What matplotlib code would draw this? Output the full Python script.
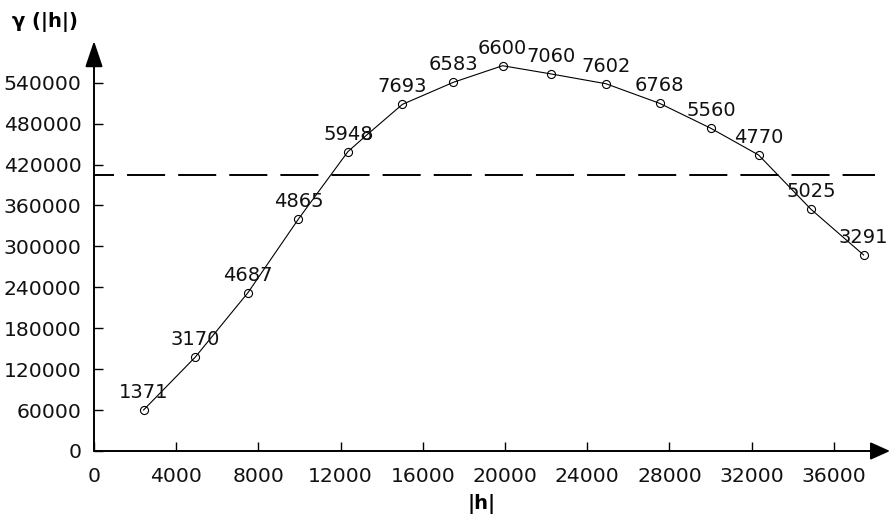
import matplotlib
matplotlib.use("Agg")
import matplotlib.pyplot as plt
from matplotlib import font_manager

# ---- data ----
lag_h = [2410, 4920, 7490, 9950, 12360, 13290, 15010, 17490, 19880,
         22250, 24910, 27520, 30020, 32340, 34890, 37450]
gamma = [60100, 137400, 232100, 340200, 439100, 463800, 508300, 540600,
         564900, 552800, 538500, 509800, 473100, 434000, 354400, 287400]
pair_labels = ["1371", "3170", "4687", "4865", "5948", "", "7693", "6583",
               "6600", "7060", "7602", "6768", "5560", "4770", "5025", "3291"]
sill = 404700
x_ticks = list(range(0, 36001, 4000))
y_ticks = list(range(0, 540001, 60000))
x_label = "|h|"
y_label = "γ (|h|)"

names = {f.name for f in font_manager.fontManager.ttflist}
condensed = 'DejaVu Sans Condensed' in names
num_family = 'DejaVu Sans Condensed' if condensed else 'DejaVu Sans'
tick_size = 15.5 if condensed else 14.7
lab_size = 15.0 if condensed else 14

plt.rcParams['font.family'] = ['DejaVu Sans']
plt.rcParams['lines.scale_dashes'] = False

W, H, DPI = 890, 519, 100
fig = plt.figure(figsize=(W / DPI, H / DPI), dpi=DPI)
fig.patch.set_facecolor('white')

# layout in pixels
x0_px, y0_px = 94, 451
right_px, top_px = 890, 41
px_per_x = 20.55 / 1000
px_per_y = 1 / 1466.2

ax = fig.add_axes([x0_px / W, (H - y0_px) / H, (right_px - x0_px) / W, (y0_px - top_px) / H])
ax.set_xlim(0, (right_px - x0_px) / px_per_x)
ax.set_ylim(0, (y0_px - top_px) / px_per_y)
for s in ax.spines.values():
    s.set_visible(False)
ax.set_facecolor('white')

# axis lines with arrow heads
ax.annotate('', xy=(0, 1), xytext=(0, 0), xycoords='axes fraction',
            arrowprops=dict(arrowstyle='-|>,head_length=0.8,head_width=0.27',
                            mutation_scale=20, color='black', lw=1.4,
                            shrinkA=0, shrinkB=0), annotation_clip=False)
ax.annotate('', xy=(1, 0), xytext=(0, 0), xycoords='axes fraction',
            arrowprops=dict(arrowstyle='-|>,head_length=0.6,head_width=0.27',
                            mutation_scale=20, color='black', lw=1.4,
                            shrinkA=0, shrinkB=0), annotation_clip=False)

# ticks
ax.set_xticks(x_ticks)
ax.set_yticks(y_ticks)
ax.set_xticklabels([str(v) for v in x_ticks], family=num_family)
ax.set_yticklabels([str(v) for v in y_ticks], family=num_family)
ax.tick_params(axis='both', direction='in', length=6.5, width=1.0, color='black',
               labelsize=tick_size, labelcolor='#111111')
ax.tick_params(axis='x', pad=11.5)
ax.tick_params(axis='y', pad=9.0)

# sill dashed line
ax.axhline(sill, xmin=0, xmax=(875 - x0_px) / (right_px - x0_px), color='black', lw=1.4,
           linestyle=(13, (27.4, 9.4)))

# variogram curve
ax.plot(lag_h, gamma, color='black', lw=0.8, marker='o', markersize=5.8,
        markerfacecolor='none', markeredgecolor='black', markeredgewidth=0.8,
        clip_on=False, zorder=3)

for xv, yv, lab in zip(lag_h, gamma, pair_labels):
    if lab:
        ax.annotate(lab, xy=(xv, yv), xytext=(0, 8.6), textcoords='offset points',
                    ha='center', va='baseline', fontsize=lab_size, color='#111111',
                    family=num_family, annotation_clip=False)

# axis titles
fig.text(12 / W, 1 - 12 / H, y_label, ha='left', va='top', fontsize=14,
         fontweight='bold', color='black')
fig.text(482 / W, 1 - 494 / H, x_label, ha='center', va='top', fontsize=14,
         fontweight='bold', color='black')

fig.savefig('out.png', dpi=DPI, facecolor='white')
